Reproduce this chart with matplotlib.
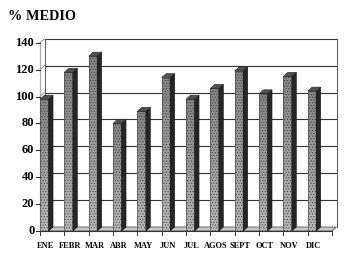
import matplotlib
matplotlib.use("Agg")
import matplotlib.pyplot as plt
from matplotlib.patches import Polygon
import numpy as np

months = ["ENE", "FEBR", "MAR", "ABR", "MAY", "JUN", "JUL", "AGOS", "SEPT", "OCT", "NOV", "DIC"]
values = [98, 118, 130, 80, 89, 114, 98, 106, 119, 102, 115, 104]
yticks = [0, 20, 40, 60, 80, 100, 120, 140]
title = "% MEDIO"

W, H = 347, 262
fig = plt.figure(figsize=(W / 100, H / 100), dpi=100)
plt.rcParams['hatch.color'] = '#505050'
plt.rcParams['hatch.linewidth'] = 0.4
serif = ["Liberation Serif", "DejaVu Serif"]

x0, x1, y0, y1 = 40, 332, 231, 42.7
ax = fig.add_axes([x0 / W, 1 - y0 / H, (x1 - x0) / W, (y0 - y1) / H])
ax.set_xlim(0, 12)
ax.set_ylim(0, 140)
ax.axis("off")

pxx = (x1 - x0) / 12.0
pxy = (y0 - y1) / 140.0
DX = 4.5 / pxx
DY = 4.0 / pxy
BW = 0.35

# floor
ax.add_patch(Polygon([(0, 0), (12, 0), (12 + DX, DY), (DX, DY)], closed=True,
                     facecolor="#c8c8c8", edgecolor="#555555", lw=0.6, clip_on=False, zorder=1))
# back wall gridlines + left wall diagonals
for v in yticks[1:]:
    ax.plot([DX, 12 + DX], [v + DY, v + DY], color="#333333", lw=0.8, clip_on=False, zorder=1)
    ax.plot([0, DX], [v, v + DY], color="#888888", lw=0.6, clip_on=False, zorder=1)
# back wall edges
ax.plot([DX, DX], [DY, 140 + DY], color="#555555", lw=0.7, clip_on=False, zorder=1)
ax.plot([12 + DX, 12 + DX], [DY, 140 + DY], color="#555555", lw=0.7, clip_on=False, zorder=1)
# front y-axis
ax.plot([0, 0], [0, 140], color="#aaaaaa", lw=0.9, clip_on=False, zorder=1)

# bars
xs = list(range(len(values)))
grad = np.linspace(0.72, 0.52, 64).reshape(-1, 1)
bars = ax.bar(xs, values, width=BW, align="edge", color="none", edgecolor="#3a3a3a",
              lw=0.4, hatch="......", zorder=3)
for b in bars:
    im = ax.imshow(grad, cmap="gray", vmin=0, vmax=1, aspect="auto", origin="lower",
                   extent=[b.get_x(), b.get_x() + b.get_width(), 0, b.get_height()],
                   zorder=2.9, interpolation="bilinear")
    im.set_clip_path(b)
ax.set_xlim(0, 12)
ax.set_ylim(0, 140)
for i, v in zip(xs, values):
    side = [(i + BW, 0), (i + BW + DX, DY), (i + BW + DX, v + DY), (i + BW, v)]
    top = [(i, v), (i + BW, v), (i + BW + DX, v + DY), (i + DX, v + DY)]
    ax.add_patch(Polygon(side, closed=True, facecolor="#262626", edgecolor="#111111",
                         lw=0.4, clip_on=False, zorder=3))
    ax.add_patch(Polygon(top, closed=True, facecolor="#505050", edgecolor="#222222",
                         lw=0.4, clip_on=False, zorder=3))

# front floor edge
ax.plot([0, 12], [0, 0], color="#333333", lw=0.8, clip_on=False, zorder=4)

# y ticks and labels
tl = 4.5 / pxx
for v in yticks:
    ax.plot([-tl, 0], [v, v], color="#333333", lw=0.8, clip_on=False, zorder=4)
    ax.text(-tl - 0.05, v, str(v), ha="right", va="center", fontsize=9,
            fontweight="bold", family=serif)

# x ticks and labels
tly = 4.0 / pxy
for i in range(13):
    ax.plot([i, i], [0, -tly], color="#333333", lw=0.7, clip_on=False, zorder=4)
for i, m in enumerate(months):
    ax.text(i + 0.24, -11.5, m, ha="center", va="center", fontsize=6,
            fontweight="bold", family=serif)

fig.text(8 / W, 1 - 17 / H, title, ha="left", va="center", fontsize=10.3,
         fontweight="bold", family=serif)

fig.savefig("out.png", dpi=100)
